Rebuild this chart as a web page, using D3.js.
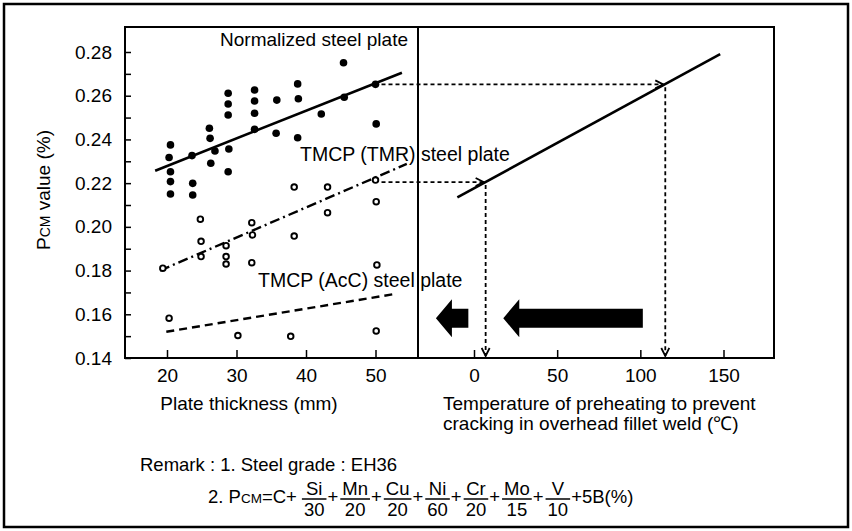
<!DOCTYPE html>
<html>
<head>
<meta charset="utf-8">
<script src="https://cdn.jsdelivr.net/npm/d3@7"></script>
<style>
  body { margin: 0; background: #fff; }
  text { font-family: "Liberation Sans", Arial, Helvetica, sans-serif; fill: #000; }
</style>
</head>
<body>
<div id="chart"></div>
<script>

  // Pcm (%) against plate thickness (mm)
  var normalized = [[20.5,0.2375],[20.3,0.2317],[20.5,0.2252],[20.5,0.2207],[20.5,0.2150],
                    [23.6,0.2326],[23.7,0.2199],[23.7,0.2146],
                    [26.1,0.2451],[26.2,0.2405],[26.9,0.2347],[26.3,0.2291],
                    [28.8,0.2611],[28.8,0.2562],[28.8,0.2512],[28.9,0.2356],[28.8,0.2252],
                    [32.6,0.2626],[32.6,0.2576],[32.6,0.2520],[32.6,0.2446],
                    [35.8,0.2580],[35.7,0.2428],
                    [38.8,0.2654],[38.9,0.2586],[38.8,0.2408],
                    [42.2,0.2516],
                    [45.4,0.2751],[45.5,0.2593],
                    [50.0,0.2652],[50.1,0.2471]];

  var tmcpTMR = [[19.4,0.1811],[24.8,0.2035],[24.9,0.1934],[24.9,0.1864],
                 [28.5,0.1914],[28.5,0.1864],[28.5,0.1830],
                 [32.2,0.2019],[32.3,0.1963],[32.2,0.1836],
                 [38.3,0.2182],[38.3,0.1958],[43.1,0.2182],[43.1,0.2065],
                 [50.0,0.2214],[50.1,0.2115]];

  var tmcpAcC = [[20.3,0.1582],[30.2,0.1503],[37.8,0.1499],[50.1,0.1524],[50.2,0.1826]];

  // regression lines, end points [mm, pcm]
  var normalizedFit = [[18.3,0.2257],[53.8,0.2705]];
  var tmrFit = [[19.0,0.1800],[54.5,0.2288]];
  var accFit = [[19.9,0.1520],[52.6,0.1692]];

  // preheat temperature line, [deg C, pcm]
  var preheatLine = [[-10,0.2135],[148,0.2790]];

  // dotted read-offs: [mm, pcm, deg C]
  var readOffs = [[50.0,0.2652,115],[50.0,0.2205,7]];

  // block arrows: [tail deg C, tip deg C] at one pcm level
  var blockArrows = [[-3.4,-22.9],[101.5,17.6]];
  var blockArrowLevel = 0.1582;

  var yTicks = [0.14,0.16,0.18,0.20,0.22,0.24,0.26,0.28];
  var yMinor = [0.15,0.17,0.19,0.21,0.23,0.25,0.27];
  var mmTicks = [20,30,40,50];
  var tempTicks = [0,50,100,150];
  var seriesNames = ["Normalized steel plate","TMCP (TMR) steel plate","TMCP (AcC) steel plate"];
  var pcmTerms = [["Si","30"],["Mn","20"],["Cu","20"],["Ni","60"],["Cr","20"],["Mo","15"],["V","10"]];

  var W = 852, H = 531;
  var box = {left: 125, right: 774, top: 27, bottom: 358, split: 418};

  var svg = d3.select("#chart").append("svg")
      .attr("width", W)
      .attr("height", H);

  var y = d3.scaleLinear().domain([0.14, 0.28]).range([box.bottom, 52]);
  var xMm = d3.scaleLinear().domain([20, 50]).range([167, 375.5]);
  var xC = d3.scaleLinear().domain([0, 150]).range([474, 723.5]);

  // outer frame
  svg.append("rect")
      .attr("x", 4).attr("y", 4)
      .attr("width", W - 8).attr("height", H - 8)
      .attr("fill", "none").attr("stroke", "#000").attr("stroke-width", 2.5);

  // plot box + divider
  svg.append("rect")
      .attr("x", box.left).attr("y", box.top)
      .attr("width", box.right - box.left).attr("height", box.bottom - box.top)
      .attr("fill", "none").attr("stroke", "#000").attr("stroke-width", 2);
  svg.append("line")
      .attr("x1", box.split).attr("x2", box.split)
      .attr("y1", box.top).attr("y2", box.bottom)
      .attr("stroke", "#000").attr("stroke-width", 2);

  // axes (ticks point inward)
  svg.append("g")
      .attr("transform", "translate(" + box.left + ",0)")
      .call(d3.axisLeft(y).tickValues(yTicks).tickFormat(d3.format(".2f"))
            .tickSizeInner(-6).tickSizeOuter(0).tickPadding(13));
  svg.append("g")
      .attr("transform", "translate(" + box.left + ",0)")
      .call(d3.axisLeft(y).tickValues(yMinor).tickFormat("")
            .tickSizeInner(-6).tickSizeOuter(0));
  svg.append("g")
      .attr("transform", "translate(0," + box.bottom + ")")
      .call(d3.axisBottom(xMm).tickValues(mmTicks).tickSizeInner(-8).tickSizeOuter(0).tickPadding(11));
  svg.append("g")
      .attr("transform", "translate(0," + box.bottom + ")")
      .call(d3.axisBottom(xC).tickValues(tempTicks).tickSizeInner(-8).tickSizeOuter(0).tickPadding(11));

  svg.selectAll(".domain").remove();
  svg.selectAll(".tick line").attr("stroke", "#000").attr("stroke-width", 1.5);
  svg.selectAll(".tick text").attr("font-size", 19).attr("font-family", null);

  // axis titles
  var yTitle = svg.append("text")
      .attr("transform", "translate(50,190) rotate(-90)")
      .attr("text-anchor", "middle")
      .attr("font-size", 19);
  yTitle.append("tspan").text("P");
  yTitle.append("tspan").attr("font-size", 14).text("CM");
  yTitle.append("tspan").text(" value (%)");

  svg.append("text")
      .attr("x", 249).attr("y", 410)
      .attr("text-anchor", "middle")
      .attr("font-size", 19)
      .text("Plate thickness (mm)");

  svg.append("text")
      .attr("x", 443).attr("y", 410)
      .attr("font-size", 19)
      .text("Temperature of preheating to prevent");
  svg.append("text")
      .attr("x", 443).attr("y", 430)
      .attr("font-size", 19)
      .text("cracking in overhead fillet weld (\u2103)");

  // regression lines
  var lineMm = d3.line().x(d => xMm(d[0])).y(d => y(d[1]));
  svg.append("path").attr("d", lineMm(normalizedFit))
      .attr("fill", "none").attr("stroke", "#000").attr("stroke-width", 2.6);
  svg.append("path").attr("d", lineMm(tmrFit))
      .attr("fill", "none").attr("stroke", "#000").attr("stroke-width", 2.4)
      .attr("stroke-dasharray", "10,4,2,4");
  svg.append("path").attr("d", lineMm(accFit))
      .attr("fill", "none").attr("stroke", "#000").attr("stroke-width", 2.4)
      .attr("stroke-dasharray", "8,5");

  // preheat line
  var lineC = d3.line().x(d => xC(d[0])).y(d => y(d[1]));
  svg.append("path").attr("d", lineC(preheatLine))
      .attr("fill", "none").attr("stroke", "#000").attr("stroke-width", 2.6);

  // points
  svg.append("g").selectAll("circle")
      .data(normalized)
    .enter().append("circle")
      .attr("cx", d => xMm(d[0]))
      .attr("cy", d => y(d[1]))
      .attr("r", 3.8)
      .attr("fill", "#000");

  svg.append("g").selectAll("circle")
      .data(tmcpTMR.concat(tmcpAcC))
    .enter().append("circle")
      .attr("cx", d => xMm(d[0]))
      .attr("cy", d => y(d[1]))
      .attr("r", 2.8)
      .attr("fill", "#fff")
      .attr("stroke", "#000")
      .attr("stroke-width", 1.9);

  // dotted read-off arrows
  var defs = svg.append("defs");
  defs.append("marker")
      .attr("id", "chev")
      .attr("viewBox", "0 0 10 10")
      .attr("refX", 9).attr("refY", 5)
      .attr("markerWidth", 10).attr("markerHeight", 10)
      .attr("markerUnits", "userSpaceOnUse")
      .attr("orient", "auto")
    .append("path")
      .attr("d", "M1,1 L9,5 L1,9")
      .attr("fill", "none").attr("stroke", "#000").attr("stroke-width", 1.8);

  readOffs.forEach(function(r) {
    svg.append("line")
        .attr("x1", xMm(r[0]) + 6).attr("y1", y(r[1]))
        .attr("x2", xC(r[2]) - 2).attr("y2", y(r[1]))
        .attr("stroke", "#000").attr("stroke-width", 1.8)
        .attr("stroke-dasharray", "4,3")
        .attr("marker-end", "url(#chev)");
    svg.append("line")
        .attr("x1", xC(r[2])).attr("y1", y(r[1]) + 3)
        .attr("x2", xC(r[2])).attr("y2", y(0.14) - 2)
        .attr("stroke", "#000").attr("stroke-width", 1.8)
        .attr("stroke-dasharray", "4,3")
        .attr("marker-end", "url(#chev)");
  });

  // big block arrows pointing left
  var headLen = 16, headHalf = 19, shaftHalf = 9.5;
  blockArrows.forEach(function(a) {
    var tail = xC(a[0]), tip = xC(a[1]), cy = y(blockArrowLevel);
    var pts = [[tip, cy], [tip + headLen, cy - headHalf], [tip + headLen, cy - shaftHalf],
               [tail, cy - shaftHalf], [tail, cy + shaftHalf], [tip + headLen, cy + shaftHalf],
               [tip + headLen, cy + headHalf]];
    svg.append("polygon").attr("points", pts.map(p => p.join(",")).join(" ")).attr("fill", "#000");
  });

  // series labels
  svg.append("text").attr("x", 408).attr("y", 46)
      .attr("text-anchor", "end").attr("font-size", 19).text(seriesNames[0]);
  svg.append("text").attr("x", 300).attr("y", 161)
      .attr("font-size", 19.5).text(seriesNames[1]);
  svg.append("text").attr("x", 258).attr("y", 287)
      .attr("font-size", 19.5).text(seriesNames[2]);

  // remarks
  var fs = 18.5;
  svg.append("text").attr("x", 140).attr("y", 471)
      .attr("font-size", fs).text("Remark : 1. Steel grade : EH36");

  var cx = 208, base = 503;
  function put(str, size, yy) {
    var t = svg.append("text").attr("x", cx).attr("y", yy)
        .attr("font-size", size).text(str);
    return t.node().getComputedTextLength();
  }
  cx += put("2. P", fs, base);
  cx += put("CM", 13.5, base);
  cx += put("=C+", fs, base) + 5;
  pcmTerms.forEach(function(t, i) {
    var tmp1 = svg.append("text").attr("font-size", fs).text(t[0]);
    var tmp2 = svg.append("text").attr("font-size", fs).text(t[1]);
    var w = Math.max(tmp1.node().getComputedTextLength(), tmp2.node().getComputedTextLength()) + 4;
    tmp1.remove(); tmp2.remove();
    var mid = cx + w / 2;
    svg.append("text").attr("x", mid).attr("y", base - 8).attr("text-anchor", "middle")
        .attr("font-size", fs).text(t[0]);
    svg.append("text").attr("x", mid).attr("y", base + 13).attr("text-anchor", "middle")
        .attr("font-size", fs).text(t[1]);
    svg.append("line").attr("x1", cx).attr("x2", cx + w)
        .attr("y1", base - 4).attr("y2", base - 4)
        .attr("stroke", "#000").attr("stroke-width", 1.5);
    cx += w + 1;
    cx += put(i < pcmTerms.length - 1 ? "+" : "+5B(%)", fs, base) + 2;
  });

</script>
</body>
</html>
